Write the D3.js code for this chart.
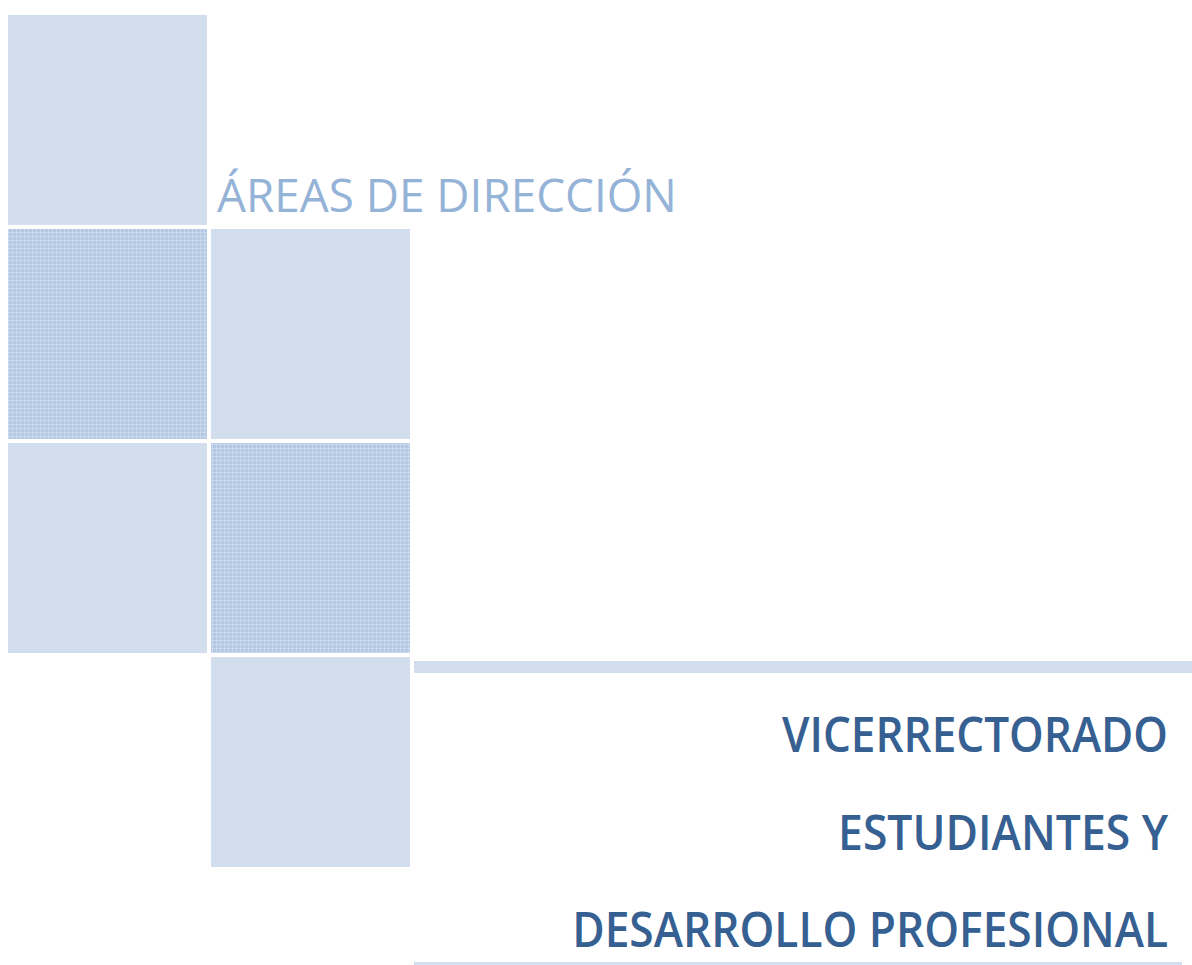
<!DOCTYPE html>
<meta charset="utf-8">
<title>Áreas de dirección</title>
<style>
body {
  margin: 0;
  background-color: white;
  font-family: 'Open Sans','Noto Sans',sans-serif;
}
svg { display: block; }
</style>
<svg></svg>
<script src="https://d3js.org/d3.v7.min.js"></script>
<script>
var width = 1192,
    height = 965;

// grid of tiles: column, row, tone
var tileCols = [0, 0, 1, 0, 1, 1],
    tileRows = [0, 1, 1, 2, 2, 3],
    tileTones = ["light", "dark", "light", "light", "dark", "light"];

var title = "ÁREAS DE DIRECCIÓN";
var subtitleLines = ["VICERRECTORADO", "ESTUDIANTES Y", "DESARROLLO PROFESIONAL"];

var svg = d3.select("svg")
    .attr("width", width)
    .attr("height", height);

var defs = svg.append("defs");

// light tile texture: faint checker
var pl = defs.append("pattern")
    .attr("id", "light")
    .attr("width", 4).attr("height", 4)
    .attr("patternUnits", "userSpaceOnUse");
pl.append("rect").attr("width", 4).attr("height", 4).attr("fill", "#d5e0ef");
pl.append("rect").attr("width", 2).attr("height", 2).attr("fill", "#d0dcee");
pl.append("rect").attr("x", 2).attr("y", 2).attr("width", 2).attr("height", 2).attr("fill", "#d0dcee");

// dark tile texture: light grid over mid blue
var pd = defs.append("pattern")
    .attr("id", "dark")
    .attr("width", 4).attr("height", 4)
    .attr("patternUnits", "userSpaceOnUse");
pd.append("rect").attr("width", 4).attr("height", 4).attr("fill", "#b5c9e4");
pd.append("rect").attr("width", 4).attr("height", 1).attr("fill", "#c6d5ea");
pd.append("rect").attr("width", 1).attr("height", 4).attr("fill", "#c6d5ea");
pd.append("rect").attr("width", 1).attr("height", 1).attr("fill", "#d6e1f1");

var x = d3.scaleBand()
    .domain([0, 1])
    .range([8, 410])
    .paddingInner(0.02);

var y = d3.scaleBand()
    .domain([0, 1, 2, 3])
    .range([15, 867])
    .paddingInner(0.019);

svg.selectAll("rect.tile")
  .data(d3.range(tileCols.length))
  .enter().append("rect")
    .attr("class", "tile")
    .attr("x", function(i) { return x(tileCols[i]); })
    .attr("y", function(i) { return y(tileRows[i]); })
    .attr("width", x.bandwidth())
    .attr("height", y.bandwidth())
    .attr("fill", function(i) { return "url(#" + tileTones[i] + ")"; });

// horizontal bar next to the last tile
svg.append("rect")
    .attr("x", 414)
    .attr("y", 661)
    .attr("width", width - 414)
    .attr("height", 12)
    .attr("fill", "url(#light)");

// thin rule under the name
svg.append("rect")
    .attr("x", 414)
    .attr("y", 962)
    .attr("width", 768)
    .attr("height", 3)
    .attr("fill", "#d3dff0");

// squeeze a text horizontally so it spans the given width
function fitWidth(sel, w) {
  sel.each(function(d, i) {
    var t = d3.select(this),
        target = typeof w === "function" ? w(d, i) : w,
        natural = this.getComputedTextLength(),
        k = target / natural;
    t.attr("transform", "translate(" + t.attr("data-x") + "," + t.attr("data-y") + ") scale(" + k + ",1)");
  });
}

svg.append("text")
    .attr("data-x", 217)
    .attr("data-y", 212)
    .attr("font-size", 46)
    .attr("fill", "#95b3d7")
    .text(title)
    .call(fitWidth, 460);

var lineY = [752, 850, 947],
    lineW = [386, 330, 596];

svg.selectAll("text.sub")
  .data(subtitleLines)
  .enter().append("text")
    .attr("class", "sub")
    .attr("data-x", 1168)
    .attr("data-y", function(d, i) { return lineY[i]; })
    .attr("text-anchor", "end")
    .attr("font-size", 48)
    .attr("font-weight", 600)
    .attr("fill", "#366092")
    .text(function(d) { return d; })
    .call(fitWidth, function(d, i) { return lineW[i]; });
</script>
